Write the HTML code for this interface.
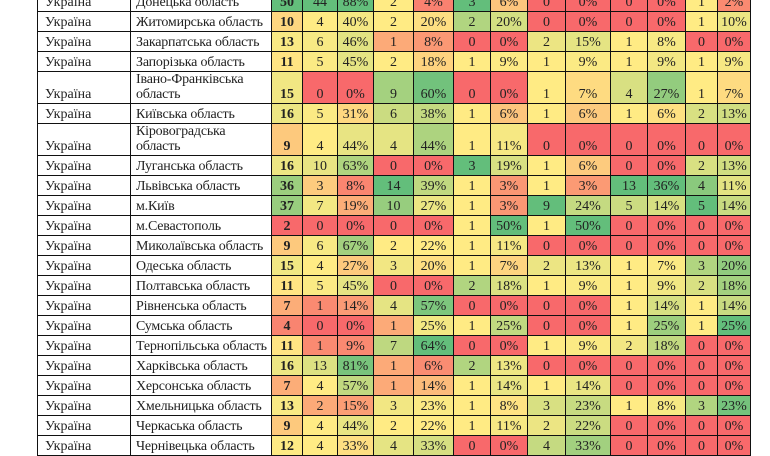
<!DOCTYPE html>
<html><head><meta charset="utf-8"><style>
html,body{margin:0;padding:0;background:#fff;width:770px;height:450px;overflow:hidden}
table{position:absolute;left:37px;top:-9px;width:713px;border-collapse:collapse;table-layout:fixed;font-family:"Liberation Serif",serif;font-size:14px;color:#222}
td{border:1px solid #111;padding:0 1px 1px;vertical-align:bottom;text-align:center;line-height:15px;overflow:hidden;white-space:nowrap}
td.a{text-align:left;padding-left:7px}
td.b{text-align:left;padding-left:5px;letter-spacing:-0.2px}
td.w{white-space:normal}
td.t{font-weight:bold}
</style></head><body>
<table id="t">
<colgroup><col style="width:93px"><col style="width:141px"><col style="width:31px"><col style="width:35px"><col style="width:36px"><col style="width:40px"><col style="width:40px"><col style="width:37px"><col style="width:37px"><col style="width:38px"><col style="width:45px"><col style="width:37px"><col style="width:38px"><col style="width:32px"><col style="width:33px"></colgroup>
<tbody id="b"></tbody></table>
<script>
var D=[
["Донецька область",50,44,"88%",2,"4%",3,"6%",0,"0%",0,"0%",1,"2%"],
["Житомирська область",10,4,"40%",2,"20%",2,"20%",0,"0%",0,"0%",1,"10%"],
["Закарпатська область",13,6,"46%",1,"8%",0,"0%",2,"15%",1,"8%",0,"0%"],
["Запорізька область",11,5,"45%",2,"18%",1,"9%",1,"9%",1,"9%",1,"9%"],
["Івано-Франківська область",15,0,"0%",9,"60%",0,"0%",1,"7%",4,"27%",1,"7%"],
["Київська область",16,5,"31%",6,"38%",1,"6%",1,"6%",1,"6%",2,"13%"],
["Кіровоградська область",9,4,"44%",4,"44%",1,"11%",0,"0%",0,"0%",0,"0%"],
["Луганська область",16,10,"63%",0,"0%",3,"19%",1,"6%",0,"0%",2,"13%"],
["Львівська область",36,3,"8%",14,"39%",1,"3%",1,"3%",13,"36%",4,"11%"],
["м.Київ",37,7,"19%",10,"27%",1,"3%",9,"24%",5,"14%",5,"14%"],
["м.Севастополь",2,0,"0%",0,"0%",1,"50%",1,"50%",0,"0%",0,"0%"],
["Миколаївська область",9,6,"67%",2,"22%",1,"11%",0,"0%",0,"0%",0,"0%"],
["Одеська область",15,4,"27%",3,"20%",1,"7%",2,"13%",1,"7%",3,"20%"],
["Полтавська область",11,5,"45%",0,"0%",2,"18%",1,"9%",1,"9%",2,"18%"],
["Рівненська область",7,1,"14%",4,"57%",0,"0%",0,"0%",1,"14%",1,"14%"],
["Сумська область",4,0,"0%",1,"25%",1,"25%",0,"0%",1,"25%",1,"25%"],
["Тернопільська область",11,1,"9%",7,"64%",0,"0%",1,"9%",2,"18%",0,"0%"],
["Харківська область",16,13,"81%",1,"6%",2,"13%",0,"0%",0,"0%",0,"0%"],
["Херсонська область",7,4,"57%",1,"14%",1,"14%",1,"14%",0,"0%",0,"0%"],
["Хмельницька область",13,2,"15%",3,"23%",1,"8%",3,"23%",1,"8%",3,"23%"],
["Черкаська область",9,4,"44%",2,"22%",1,"11%",2,"22%",0,"0%",0,"0%"],
["Чернівецька область",12,4,"33%",4,"33%",0,"0%",4,"33%",0,"0%",0,"0%"]];
var R=[248,105,107],Y=[255,235,132],G=[99,190,123];
function mix(a,b,f){return "rgb("+a.map((v,i)=>Math.round(v+(b[i]-v)*f)).join(",")+")";}
var ncol=13,st=[];
for(var c=0;c<ncol;c++){var v=D.map(r=>parseFloat(r[c+1])).sort((a,b)=>a-b);var m=v.length;var med=(v[(m-1)>>1]+v[m>>1])/2;st.push([v[0],med,v[m-1]]);}
function col(c,x){var s=st[c];if(x<=s[1]){var f=s[1]>s[0]?(x-s[0])/(s[1]-s[0]):1;return mix(R,Y,f);}var f2=s[2]>s[1]?(x-s[1])/(s[2]-s[1]):0;return mix(Y,G,f2);}
var h="";
D.forEach(function(r,i){var two=(r[0].indexOf("Івано")==0||r[0].indexOf("Кіровоград")==0);var ht=two?31:20;
h+='<tr style="height:'+ht+'px"><td class="a">Україна</td><td class="b'+(two?' w':'')+'">'+r[0]+'</td>';
for(var c=0;c<ncol;c++){var x=parseFloat(r[c+1]);h+='<td class="'+(c==0?'t':'')+'" style="background:'+col(c,x)+'">'+r[c+1]+'</td>';}
h+='</tr>';});
document.getElementById("b").innerHTML=h;
</script>
</body></html>
